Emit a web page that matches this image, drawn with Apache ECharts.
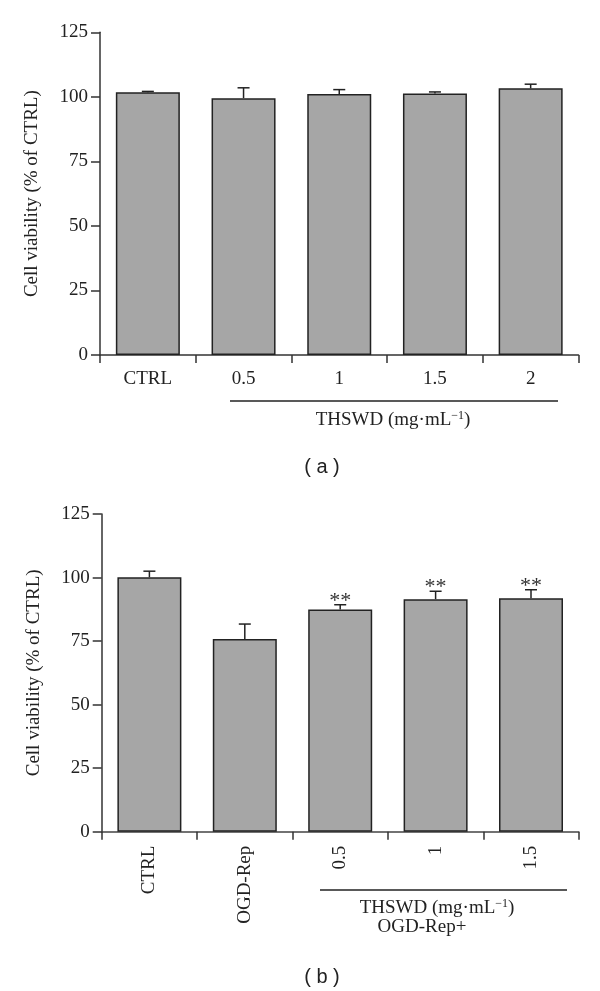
<!DOCTYPE html>
<html>
<head>
<meta charset="utf-8">
<script src="https://cdn.jsdelivr.net/npm/echarts@6/dist/echarts.min.js"></script>
<style>
html,body{margin:0;padding:0;background:#fff;}
#c{width:600px;height:991px;}
</style>
</head>
<body>
<div id="c"></div>
<script>
// Panel (a)
var catsA = ['CTRL', '0.5', '1', '1.5', '2'];
var valsA = [101.8, 99.5, 101.1, 101.3, 103.3];
var errA = [0.3, 4.0, 1.7, 0.6, 1.6];
// Panel (b)
var catsB = ['CTRL', 'OGD-Rep', '0.5', '1', '1.5'];
var valsB = [100.1, 75.8, 87.4, 91.5, 91.9];
var errB = [2.4, 5.9, 1.9, 3.1, 3.3];
var sigB = ['', '', '**', '**', '**'];
// Y axis ticks
var yMin = 0, yMax = 125, yStep = 25;

var SERIF = 'Liberation Serif';
var SANS = 'Liberation Sans';
var INK = '#222';
var FS = 19;

function errRender(vals, errs, sig) {
  return function (params, api) {
    var i = api.value(0);
    var v = vals[i], e = errs[i];
    var p0 = api.coord([i, v]);
    var p1 = api.coord([i, v + e]);
    var cw = 6;
    var children = [
      { type: 'line', shape: { x1: p0[0], y1: p0[1], x2: p1[0], y2: p1[1] }, style: { stroke: INK, lineWidth: 1.5 } },
      { type: 'line', shape: { x1: p1[0] - cw, y1: p1[1], x2: p1[0] + cw, y2: p1[1] }, style: { stroke: INK, lineWidth: 1.5 } }
    ];
    if (sig && sig[i]) {
      children.push({ type: 'text', style: { text: sig[i], x: p1[0], y: p1[1] + 7, align: 'center', verticalAlign: 'bottom', fontFamily: SERIF, fontSize: 22, fill: '#333' } });
    }
    return { type: 'group', children: children };
  };
}

function yAxis(gi) {
  return {
    type: 'value', gridIndex: gi, min: yMin, max: yMax, interval: yStep,
    name: 'Cell viability (% of CTRL)', nameLocation: 'middle', nameRotate: 90, nameGap: 58,
    nameTextStyle: { fontFamily: SERIF, fontSize: FS, color: INK },
    axisLine: { show: true, lineStyle: { color: '#333', width: 1.5 } },
    axisTick: { show: true, length: 9, lineStyle: { color: '#333', width: 1.5 } },
    axisLabel: { fontFamily: SERIF, fontSize: FS, color: INK, margin: 12 },
    splitLine: { show: false }
  };
}

var option = {
  animation: false,
  backgroundColor: '#fff',
  grid: [
    { left: 100, right: 21.5, top: 32.3, bottom: 636 },
    { left: 101.7, right: 21.3, top: 514, bottom: 159.3 }
  ],
  xAxis: [
    {
      type: 'category', gridIndex: 0, data: catsA, boundaryGap: true,
      axisLine: { lineStyle: { color: '#333', width: 1.5 } },
      axisTick: { show: true, length: 8, lineStyle: { color: '#333', width: 1.5 } },
      axisLabel: { fontFamily: SERIF, fontSize: FS, color: INK, margin: 15 }
    },
    {
      type: 'category', gridIndex: 1, data: catsB, boundaryGap: true,
      axisLine: { lineStyle: { color: '#444', width: 1.5 } },
      axisTick: { show: true, length: 8, lineStyle: { color: '#333', width: 1.5 } },
      axisLabel: { fontFamily: SERIF, fontSize: FS, color: INK, margin: 14, rotate: 90 }
    }
  ],
  yAxis: [yAxis(0), yAxis(1)],
  series: [
    {
      type: 'bar', xAxisIndex: 0, yAxisIndex: 0, data: valsA, barWidth: 64,
      itemStyle: { color: '#a6a6a6', borderColor: INK, borderWidth: 1.5 }
    },
    {
      type: 'custom', xAxisIndex: 0, yAxisIndex: 0, data: valsA.map(function (v, i) { return [i, v]; }),
      renderItem: errRender(valsA, errA, null), z: 5
    },
    {
      type: 'bar', xAxisIndex: 1, yAxisIndex: 1, data: valsB, barWidth: 64,
      itemStyle: { color: '#a6a6a6', borderColor: INK, borderWidth: 1.5 }
    },
    {
      type: 'custom', xAxisIndex: 1, yAxisIndex: 1, data: valsB.map(function (v, i) { return [i, v]; }),
      renderItem: errRender(valsB, errB, sigB), z: 5
    }
  ],
  graphic: [
    // Panel (a) bracket & label
    { type: 'line', shape: { x1: 230, y1: 401, x2: 558, y2: 401 }, style: { stroke: INK, lineWidth: 1.5 } },
    {
      type: 'text', style: {
        x: 393, y: 420, align: 'center', verticalAlign: 'middle',
        text: '{a|THSWD (mg·mL}{s|−1}{a|)}',
        rich: {
          a: { fontFamily: SERIF, fontSize: FS, fill: INK, lineHeight: 21 },
          s: { fontFamily: SERIF, fontSize: 12, fill: INK, verticalAlign: 'top', lineHeight: 21 }
        }
      }
    },
    { type: 'text', style: { x: 322, y: 467, align: 'center', verticalAlign: 'middle', text: '( a )', fontFamily: SANS, fontSize: 20, fill: INK } },
    // Panel (b) bracket & labels
    { type: 'line', shape: { x1: 320, y1: 890, x2: 567, y2: 890 }, style: { stroke: INK, lineWidth: 1.5 } },
    {
      type: 'text', style: {
        x: 437, y: 908, align: 'center', verticalAlign: 'middle',
        text: '{a|THSWD (mg·mL}{s|−1}{a|)}',
        rich: {
          a: { fontFamily: SERIF, fontSize: FS, fill: INK, lineHeight: 21 },
          s: { fontFamily: SERIF, fontSize: 12, fill: INK, verticalAlign: 'top', lineHeight: 21 }
        }
      }
    },
    { type: 'text', style: { x: 422, y: 927, align: 'center', verticalAlign: 'middle', text: 'OGD-Rep+', fontFamily: SERIF, fontSize: FS, fill: INK } },
    { type: 'text', style: { x: 322, y: 977, align: 'center', verticalAlign: 'middle', text: '( b )', fontFamily: SANS, fontSize: 20, fill: INK } }
  ]
};

var chart = echarts.init(document.getElementById('c'), null, { renderer: 'canvas' });
chart.setOption(option);
</script>
</body>
</html>
